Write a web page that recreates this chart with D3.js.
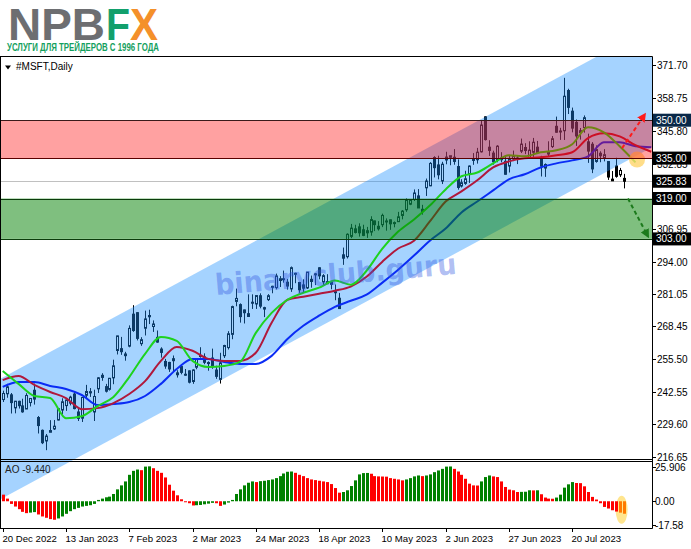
<!DOCTYPE html>
<html><head><meta charset="utf-8">
<script src="https://cdn.jsdelivr.net/npm/d3@7"></script>
<style>body{margin:0;background:#fff}svg{display:block}</style>
</head><body><svg id="c" width="691" height="549"></svg>
<script>
// ---------- DATA (daily bars, 19 Dec 2022 .. 8 Aug 2023; index 0 = 20 Dec 2022) ----------
const firstIndex = -1;
const openP = [244.86,239.40,241.69,241.26,236.11,238.70,236.89,235.65,238.21,243.08,232.28,227.20,223.00,226.45,227.76,231.29,235.26,237.00,237.97,241.57,234.48,232.02,241.10,242.50,234.48,243.65,248.99,244.51,243.45,248.00,258.82,259.54,257.44,260.53,273.20,273.80,261.53,267.64,272.67,268.32,264.02,259.39,254.48,254.09,255.56,249.96,252.46,249.07,250.76,246.55,252.19,256.43,256.30,254.04,255.82,251.08,247.40,256.75,259.98,265.21,278.26,276.98,274.88,273.40,277.94,277.24,280.50,275.79,278.96,284.23,283.73,286.52,287.23,285.85,283.21,289.21,285.75,284.79,283.59,287.00,289.17,291.57,285.99,285.25,285.01,282.09,279.51,296.70,295.97,304.01,306.97,307.76,306.62,306.24,305.72,310.13,308.00,308.62,310.10,310.55,309.10,309.83,312.29,314.53,316.74,318.60,320.03,314.73,323.24,324.02,335.23,332.29,325.93,334.25,335.32,335.33,331.65,323.94,324.99,328.58,334.47,334.34,337.48,351.32,339.31,336.98,334.12,334.36,333.72,331.86,334.66,334.71,337.75,339.19,335.09,337.30,339.32,335.35,331.06,336.60,339.56,347.59,345.68,345.83,361.75,353.57,349.15,345.85,347.11,341.44,340.48,333.67,336.92,335.19,333.63,326.00,331.88,328.37,326.96];
const highP = [245.21,242.91,245.62,241.99,238.87,238.93,239.72,241.92,239.96,245.75,232.87,227.55,225.76,231.24,231.31,235.95,239.90,239.37,240.91,242.38,236.06,240.34,245.21,243.95,243.30,248.31,249.83,245.60,247.97,255.18,264.69,264.20,258.30,268.77,276.76,273.98,264.09,274.60,274.97,270.73,266.74,260.09,255.49,254.34,256.84,251.00,252.82,251.49,250.93,251.40,255.62,260.12,257.69,254.54,259.56,252.79,257.91,261.07,266.48,276.56,283.33,277.48,275.00,281.04,281.06,280.63,281.46,276.14,281.14,284.46,289.27,288.27,290.45,287.15,292.08,289.60,285.98,287.01,289.90,288.48,289.43,291.76,289.05,289.03,286.27,284.95,281.60,299.57,305.20,308.93,308.60,309.18,308.61,307.76,311.97,310.20,310.04,313.00,311.12,310.65,309.90,313.71,314.43,319.04,318.75,322.59,322.72,316.50,326.90,333.40,335.74,335.94,333.53,337.50,335.37,338.56,334.49,326.64,329.99,332.10,336.99,339.04,349.84,351.47,342.08,337.92,340.12,337.34,336.11,336.15,337.98,336.11,342.73,340.90,341.65,342.99,341.79,335.90,332.90,341.65,343.74,351.43,346.99,366.78,362.46,355.00,350.30,346.92,351.89,344.67,341.33,340.01,337.70,338.54,333.63,329.88,335.14,331.11,328.75];
const lowP = [238.71,238.42,240.11,233.87,233.94,235.83,234.17,235.65,236.66,237.40,225.96,221.76,219.35,226.41,227.33,231.11,233.56,234.92,237.09,235.52,230.90,230.51,239.65,240.44,230.90,242.00,246.83,242.20,242.95,245.47,257.25,257.10,254.78,260.08,266.21,262.80,260.66,264.76,269.28,266.18,261.90,256.00,251.59,250.34,250.48,248.10,249.39,248.73,245.79,245.61,251.39,255.98,253.39,250.81,251.58,247.60,245.73,255.86,259.21,263.28,276.32,269.85,269.52,272.18,275.28,275.28,275.52,272.05,278.41,281.48,283.00,283.95,285.67,282.92,282.03,285.47,281.64,281.96,283.17,283.69,284.71,287.01,284.54,285.08,283.06,278.72,275.37,292.73,295.25,303.31,305.15,303.91,304.09,303.40,304.27,306.09,306.31,307.67,306.26,306.60,307.59,309.83,310.74,313.72,316.37,318.01,315.25,312.61,320.00,323.88,327.33,326.59,324.72,332.55,332.17,332.37,322.50,323.35,324.41,325.16,332.33,332.81,337.20,341.95,335.86,332.41,333.34,333.34,328.49,329.30,333.81,332.62,336.99,336.57,334.73,335.50,337.00,327.72,327.56,335.67,339.02,345.06,342.20,342.17,352.44,345.20,339.83,342.31,345.07,333.11,329.05,333.17,333.36,333.70,326.36,325.95,327.24,327.52,323.00];
const closeP = [240.45,241.80,244.43,238.19,238.73,236.96,234.53,241.01,239.82,239.58,229.10,222.31,224.93,227.12,228.85,235.77,238.51,239.23,240.35,235.81,231.93,240.22,242.58,242.04,240.61,248.00,248.16,242.71,247.81,252.75,264.60,258.35,256.77,267.56,266.73,263.62,263.10,271.32,272.17,269.32,262.15,258.06,252.67,251.51,254.77,249.22,250.16,249.42,246.27,251.11,255.29,256.87,254.15,253.70,252.32,248.59,253.92,260.79,265.44,276.20,279.43,272.23,273.78,272.29,277.66,280.57,276.38,275.23,280.51,284.05,288.30,287.23,287.18,284.34,291.60,289.39,282.83,283.49,289.84,286.14,288.80,288.37,288.45,286.11,285.76,281.77,275.42,295.37,304.83,307.26,305.56,305.41,304.40,305.41,310.65,308.65,307.00,312.31,310.11,308.97,309.46,311.74,314.00,318.52,318.34,321.18,315.26,313.85,325.92,332.89,331.21,328.39,332.58,335.40,335.94,333.68,323.38,325.26,326.79,331.85,334.29,337.34,348.10,342.33,338.05,333.56,339.71,335.02,328.60,334.57,335.85,335.05,340.54,337.99,338.15,341.27,337.22,331.83,332.47,337.20,342.66,345.24,345.73,359.49,355.08,346.87,343.77,345.11,350.98,337.77,330.72,338.37,335.92,336.34,327.50,326.66,327.78,330.11,325.83];
// Awesome Oscillator, one value per bar
const aoValues = [7.0,5.0,2.0,-2.0,-4.0,-6.0,-8.0,-9.0,-8.6,-8.2,-10.0,-11.5,-12.5,-13.5,-14.0,-13.0,-11.5,-9.5,-7.5,-6.0,-5.0,-4.0,-3.5,-3.0,-2.0,1.0,2.0,3.0,3.5,5.5,9.0,12.0,15.0,20.0,23.0,24.0,23.5,26.2,26.4,25.0,23.0,21.5,18.0,12.5,8.0,4.5,1.5,-0.5,-1.5,-3.2,-3.0,-2.8,-2.3,-1.8,-1.2,-1.5,-3.5,-2.5,-1.0,1.0,5.5,9.0,12.0,14.0,15.0,14.5,15.2,15.5,16.0,16.5,17.5,19.0,21.0,22.3,22.5,21.5,20.0,19.0,17.5,16.5,16.0,15.5,15.0,14.5,13.0,10.0,6.5,7.0,8.3,11.5,15.8,20.3,21.3,21.4,20.8,19.0,18.8,18.7,18.6,17.5,17.0,16.5,15.8,16.5,17.5,18.8,19.5,19.0,19.5,20.3,22.0,23.3,24.5,26.2,26.3,24.5,22.5,20.0,17.0,13.3,12.0,11.9,15.0,18.3,19.5,18.8,18.3,15.0,10.8,8.8,8.3,7.0,7.1,7.2,8.3,8.2,8.3,5.3,2.8,2.0,1.9,2.8,5.0,10.3,12.8,14.5,13.8,13.7,11.3,7.0,3.3,1.3,-1.5,-4.3,-5.5,-6.8,-7.8,-8.6,-9.44];
const aoLast = "-9.440";
// Alligator lines, read every 4th bar starting at index 0
const maStep = 4;
const lipsMA  = [250.7,245.6,240.8,240.0,232.0,232.8,236.8,240.4,248.3,257.5,264.2,262.6,254.7,252.3,252.7,254.3,265.8,273.7,278.9,281.7,283.7,286.5,284.9,290.4,299.2,305.9,310.7,316.2,322.6,327.8,329.3,332.9,336.1,335.7,337.3,338.1,340.5,347.2,345.2,339.7,333.3];
const teethMA = [247.1,248.7,245.2,242.4,240.0,235.6,236.0,238.0,241.6,246.7,254.7,260.2,258.7,255.5,254.7,254.7,257.9,269.8,278.9,280.1,281.3,282.5,284.1,288.0,294.0,299.2,302.3,309.9,317.8,321.8,326.2,331.3,333.7,334.9,335.3,336.1,337.3,342.9,344.8,343.6,340.1,337.5];
const jawMA   = [244.4,246.3,246.3,244.8,243.6,241.2,237.2,237.6,238.4,240.8,245.6,251.5,255.5,255.5,254.3,253.5,253.5,256.7,263.4,268.6,272.6,276.1,278.5,280.9,285.7,290.8,296.4,302.3,307.1,313.5,317.8,322.2,326.6,328.6,331.3,332.9,334.1,335.7,341.3,341.3,339.7,339.3];
// axes
const priceTicks = [371.70,358.75,345.80,332.85,319.90,306.95,294.00,281.05,268.45,255.50,242.55,229.60,216.65];
const dateTickIdx = [0,16,32,48,64,80,96,112,128,144];
const dateTickLabels = ["20 Dec 2022","13 Jan 2023","7 Feb 2023","2 Mar 2023","24 Mar 2023","18 Apr 2023","10 May 2023","2 Jun 2023","27 Jun 2023","20 Jul 2023"];
const aoTicks = [25.906, 0, -17.58];
const aoTickLabels = ["25.906","0.00","-17.58"];
// drawn objects (price levels and channel, in price/bar units)
const resistZone = [350.00, 335.00];
const supportZone = [319.00, 303.00];
const lastPrice = 325.83;
const levelLabels = [350.00, 335.00, 325.83, 319.00, 303.00];
const channelUpper = [[0, 248.1], [150, 375.0]];
const channelWidth = 47.7;
const arrowUp = [[156.6, 338.9], [162.4, 352.4]];
const arrowDown = [[158.1, 319.0], [163.2, 303.9]];
const glowPoint = [160.4, 334.4];

// ---------- LAYOUT ----------
const svg = d3.select("#c");
const L = 0, R = 652, MT = 57, MB = 459, AT = 462, AB = 528;
const FONT = "'Liberation Sans', Arial, sans-serif";
const x = d3.scaleLinear().domain([0, 144]).range([2.7, 572.2]);
const y = d3.scaleLinear().domain([216.65, 371.70]).range([457, 65.4]);
const yA = d3.scaleLinear().domain([-17.58, 25.906]).range([524.5, 467]);

const defs = svg.append("defs");
defs.append("clipPath").attr("id","cm").append("rect").attr("x",L).attr("y",MT).attr("width",R-L).attr("height",MB-MT);
defs.append("clipPath").attr("id","ca").append("rect").attr("x",L).attr("y",AT).attr("width",R-L).attr("height",AB-AT);
defs.append("clipPath").attr("id","call").append("rect").attr("x",L).attr("y",MT).attr("width",R-L).attr("height",AB-MT);
const mk = (id,color)=>defs.append("marker").attr("id",id).attr("viewBox","0 0 10 10").attr("refX",8).attr("refY",5)
  .attr("markerWidth",4.5).attr("markerHeight",4.5).attr("orient","auto")
  .append("path").attr("d","M0,0L10,5L0,10z").attr("fill",color);
mk("ar","#ff1a1a"); mk("ag","#1c7a1c");

// ---------- LOGO ----------
const logo = svg.append("g").attr("font-family",FONT).attr("font-weight","bold");
logo.append("text").attr("x",8).attr("y",40).attr("font-size",44).attr("fill","#6d6e71")
  .attr("textLength",97).attr("lengthAdjust","spacingAndGlyphs").text("NPB");
logo.append("text").attr("x",106).attr("y",40).attr("font-size",44).attr("fill","#12a06c")
  .attr("textLength",24).attr("lengthAdjust","spacingAndGlyphs").text("F");
logo.append("text").attr("x",130).attr("y",40).attr("font-size",44).attr("fill","#f4902a")
  .attr("textLength",28).attr("lengthAdjust","spacingAndGlyphs").text("X");
logo.append("text").attr("x",7).attr("y",51).attr("font-size",10).attr("fill","#14a05e")
  .attr("textLength",152).attr("lengthAdjust","spacingAndGlyphs").text("УСЛУГИ ДЛЯ ТРЕЙДЕРОВ С 1996 ГОДА");

// ---------- MAIN PANEL ----------
const bars = openP.map((o,k)=>({i:k+firstIndex,o,h:highP[k],l:lowP[k],c:closeP[k],ao:aoValues[k],aoPrev:k?aoValues[k-1]:aoValues[k]+1}));
const main = svg.append("g").attr("clip-path","url(#cm)");
main.append("line").attr("x1",L).attr("x2",R).attr("y1",Math.round(y(lastPrice))+0.5).attr("y2",Math.round(y(lastPrice))+0.5)
  .attr("stroke","#c0c0c0").attr("stroke-width",1);
const cg = main.append("g");
bars.forEach(b=>{
  const cx = Math.round(x(b.i));
  cg.append("line").attr("x1",cx+0.5).attr("x2",cx+0.5).attr("y1",y(b.h)).attr("y2",y(b.l)).attr("stroke","#000").attr("stroke-width",1);
  const top = y(Math.max(b.o,b.c)), bot = y(Math.min(b.o,b.c));
  cg.append("rect").attr("x",cx-0.5).attr("y",top).attr("width",2).attr("height",Math.max(1,bot-top))
    .attr("fill", b.c>=b.o ? "#fff" : "#000").attr("stroke","#000").attr("stroke-width",1);
});
// channel
const slope = (channelUpper[1][1]-channelUpper[0][1])/(channelUpper[1][0]-channelUpper[0][0]);
const up = i => channelUpper[0][1] + (i-channelUpper[0][0])*slope;
const ia = -10, ib = 175;
svg.append("path").attr("clip-path","url(#call)")
  .attr("d", d3.line()([[x(ia),y(up(ia))],[x(ib),y(up(ib))],[x(ib),y(up(ib)-channelWidth)],[x(ia),y(up(ia)-channelWidth)]])+"Z")
  .attr("fill","rgb(30,144,255)").attr("fill-opacity",0.4);
// alligator lines
const lg = svg.append("g").attr("clip-path","url(#cm)");
const mline = d3.line().x((d,k)=>x(k*maStep)).y(d=>y(d)).curve(d3.curveMonotoneX);
lg.append("path").attr("d",mline(jawMA)).attr("fill","none").attr("stroke","#0a2cf5").attr("stroke-width",2);
lg.append("path").attr("d",mline(teethMA)).attr("fill","none").attr("stroke","#b0183c").attr("stroke-width",2);
lg.append("path").attr("d",mline(lipsMA)).attr("fill","none").attr("stroke","#1ed21e").attr("stroke-width",2);
lg.append("circle").attr("cx",x(glowPoint[0])).attr("cy",y(glowPoint[1])).attr("r",8).attr("fill","#ffd56a").attr("fill-opacity",0.8);
// zones
const zg = svg.append("g").attr("clip-path","url(#cm)");
zg.append("rect").attr("x",L).attr("width",R-L).attr("y",y(resistZone[0])).attr("height",y(resistZone[1])-y(resistZone[0]))
  .attr("fill","rgb(255,0,0)").attr("fill-opacity",0.37);
zg.append("rect").attr("x",L).attr("width",R-L).attr("y",y(supportZone[0])).attr("height",y(supportZone[1])-y(supportZone[0]))
  .attr("fill","rgb(0,128,0)").attr("fill-opacity",0.5);
[[resistZone[0],"#3a1a1a"],[resistZone[1],"#5a0000"],[supportZone[0],"#0b3d0b"],[supportZone[1],"#0b3d0b"]].forEach(([v,c])=>{
  const yy = Math.round(y(v))+0.5;
  zg.append("line").attr("x1",L).attr("x2",R).attr("y1",yy).attr("y2",yy).attr("stroke",c).attr("stroke-width",1);
});
// watermark
svg.append("text").attr("x",216).attr("y",295).attr("transform","rotate(-5 216 295)")
  .attr("font-family","'DejaVu Sans', sans-serif").attr("font-weight","bold").attr("font-size",29)
  .attr("textLength",242).attr("lengthAdjust","spacingAndGlyphs")
  .attr("fill","#3358e0").attr("fill-opacity",0.4).text("binaryclub.guru");
// arrows
const ag = svg.append("g").attr("clip-path","url(#cm)");
ag.append("line").attr("x1",x(arrowUp[0][0])).attr("y1",y(arrowUp[0][1])).attr("x2",x(arrowUp[1][0])).attr("y2",y(arrowUp[1][1]))
  .attr("stroke","#ff1a1a").attr("stroke-width",2).attr("stroke-dasharray","4,3").attr("marker-end","url(#ar)");
ag.append("line").attr("x1",x(arrowDown[0][0])).attr("y1",y(arrowDown[0][1])).attr("x2",x(arrowDown[1][0])).attr("y2",y(arrowDown[1][1]))
  .attr("stroke","#1c7a1c").attr("stroke-width",2).attr("stroke-dasharray","4,3").attr("marker-end","url(#ag)");

// ---------- AO PANEL ----------
const ao = svg.append("g").attr("clip-path","url(#ca)");
const lastI = bars[bars.length-1].i;
ao.append("ellipse").attr("cx",x(lastI)-2).attr("cy",yA(-6.5)).attr("rx",6).attr("ry",14).attr("fill","#ffe07a").attr("fill-opacity",0.85);
bars.forEach(b=>{
  const cx = Math.round(x(b.i));
  const y0 = yA(0), y1 = yA(b.ao);
  let col = b.ao >= b.aoPrev ? "#008000" : "#ff0000";
  if (b.i >= lastI-1) col = "#ff7a00";
  ao.append("rect").attr("x",cx-1).attr("width",3).attr("y",Math.min(y0,y1)).attr("height",Math.max(1,Math.abs(y1-y0))).attr("fill",col);
});
svg.append("text").attr("x",5).attr("y",473).attr("font-family",FONT).attr("font-size",10).attr("fill","#222").text("AO " + aoLast);

// ---------- FRAMES ----------
const fr = svg.append("g").attr("stroke","#000").attr("stroke-width",1).attr("fill","none");
fr.append("line").attr("x1",0).attr("x2",R+0.5).attr("y1",MT-0.5).attr("y2",MT-0.5);
fr.append("line").attr("x1",0.5).attr("x2",0.5).attr("y1",MT-0.5).attr("y2",AB+0.5);
fr.append("line").attr("x1",R+0.5).attr("x2",R+0.5).attr("y1",MT-0.5).attr("y2",AB+0.5);
fr.append("line").attr("x1",0).attr("x2",R+0.5).attr("y1",MB+0.5).attr("y2",MB+0.5);
fr.append("line").attr("x1",0).attr("x2",R+0.5).attr("y1",AT-0.5).attr("y2",AT-0.5);
fr.append("line").attr("x1",0).attr("x2",R+0.5).attr("y1",AB+0.5).attr("y2",AB+0.5);

svg.append("path").attr("d","M5,65.5L11,65.5L8,69.5Z").attr("fill","#000");
svg.append("text").attr("x",16).attr("y",70).attr("font-family",FONT).attr("font-size",10).attr("fill","#000").text("#MSFT,Daily");

// ---------- RIGHT AXIS ----------
const ra = svg.append("g").attr("font-family",FONT).attr("font-size",10).attr("fill","#000");
priceTicks.forEach(v=>{
  const yy = Math.round(y(v))+0.5;
  ra.append("line").attr("x1",R).attr("x2",R+4).attr("y1",yy).attr("y2",yy).attr("stroke","#000");
  const hidden = levelLabels.some(l=>Math.abs(y(l)-y(v))<3);
  if (!hidden) ra.append("text").attr("x",657).attr("y",yy).attr("dy","0.35em").text(v.toFixed(2));
});
aoTicks.forEach((v,k)=>{
  const yy = Math.round(yA(v))+0.5;
  ra.append("line").attr("x1",R).attr("x2",R+4).attr("y1",yy).attr("y2",yy).attr("stroke","#000");
  ra.append("text").attr("x",655).attr("y",yy).attr("dy","0.35em").text(aoTickLabels[k]);
});
levelLabels.forEach(v=>{
  const yy = y(v);
  ra.append("rect").attr("x",653).attr("y",yy-6.5).attr("width",38).attr("height",13).attr("fill", v===resistZone[0] ? "#082848" : "#000");
  ra.append("text").attr("x",656).attr("y",yy).attr("dy","0.35em").attr("fill","#fff").text(v.toFixed(2));
});

// ---------- BOTTOM AXIS ----------
const ba = svg.append("g").attr("font-family",FONT).attr("font-size",9.6).attr("fill","#000");
dateTickIdx.forEach((i,k)=>{
  const xx = Math.round(x(i))+0.5;
  ba.append("line").attr("x1",xx).attr("x2",xx).attr("y1",AB).attr("y2",AB+4).attr("stroke","#000");
  ba.append("text").attr("x",xx-1).attr("y",542).text(dateTickLabels[k]);
});
</script></body></html>
